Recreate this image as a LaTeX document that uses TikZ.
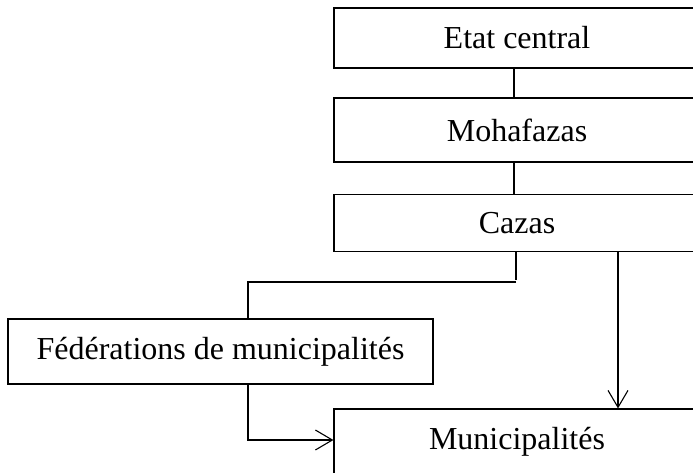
\documentclass[tikz,border=0pt]{standalone}
\usepackage{fontspec}
\setmainfont{Liberation Serif}
\usetikzlibrary{arrows.meta}
\begin{document}
\begin{tikzpicture}[x=1pt,y=-1pt,
  box/.style={draw=black, line width=1.1pt, inner sep=0pt, font=\fontsize{32}{38}\selectfont},
  thickline/.style={draw=black, line width=2.2pt},
  thinline/.style={draw=black, line width=1.1pt},
  arrowline/.style={draw=black, line width=1.1pt, -{Straight Barb[length=17pt,width=20pt,line width=1.1pt]}}]
\useasboundingbox (0,0) rectangle (693,472);
\clip (0,0) rectangle (693,472);
\node[box, minimum width=366pt, minimum height=60pt] (etat) at (517,38) {Etat central};
\node[box, minimum width=366pt, minimum height=64pt] (moh) at (517,130) {Mohafazas};
\node[box, minimum width=366pt, minimum height=57pt] (cazas) at (517,223) {Cazas};
\node[box, minimum width=425pt, minimum height=65pt] (fed) at (220.5,351.5) {Fédérations de municipalités};
\node[box, minimum width=366pt, minimum height=66pt] (muni) at (517,442) {Municipalités};
\coordinate (cx) at (514,0);
\coordinate (j) at (516,282);
\coordinate (f) at (248,0);
\coordinate (k) at (248,440);
\coordinate (ax) at (618,0);
\draw[thickline] (etat.south -| cx) -- (moh.north -| cx);
\draw[thickline] (moh.south -| cx) -- (cazas.north -| cx);
\draw[thickline] (cazas.south -| j) -- ([yshift=2pt]j);
\draw[thinline] (j) -| (fed.north -| f);
\draw[arrowline] (fed.south -| k) |- (muni.west |- k);
\draw[arrowline] (cazas.south -| ax) -- (muni.north -| ax);
\end{tikzpicture}
\end{document}
